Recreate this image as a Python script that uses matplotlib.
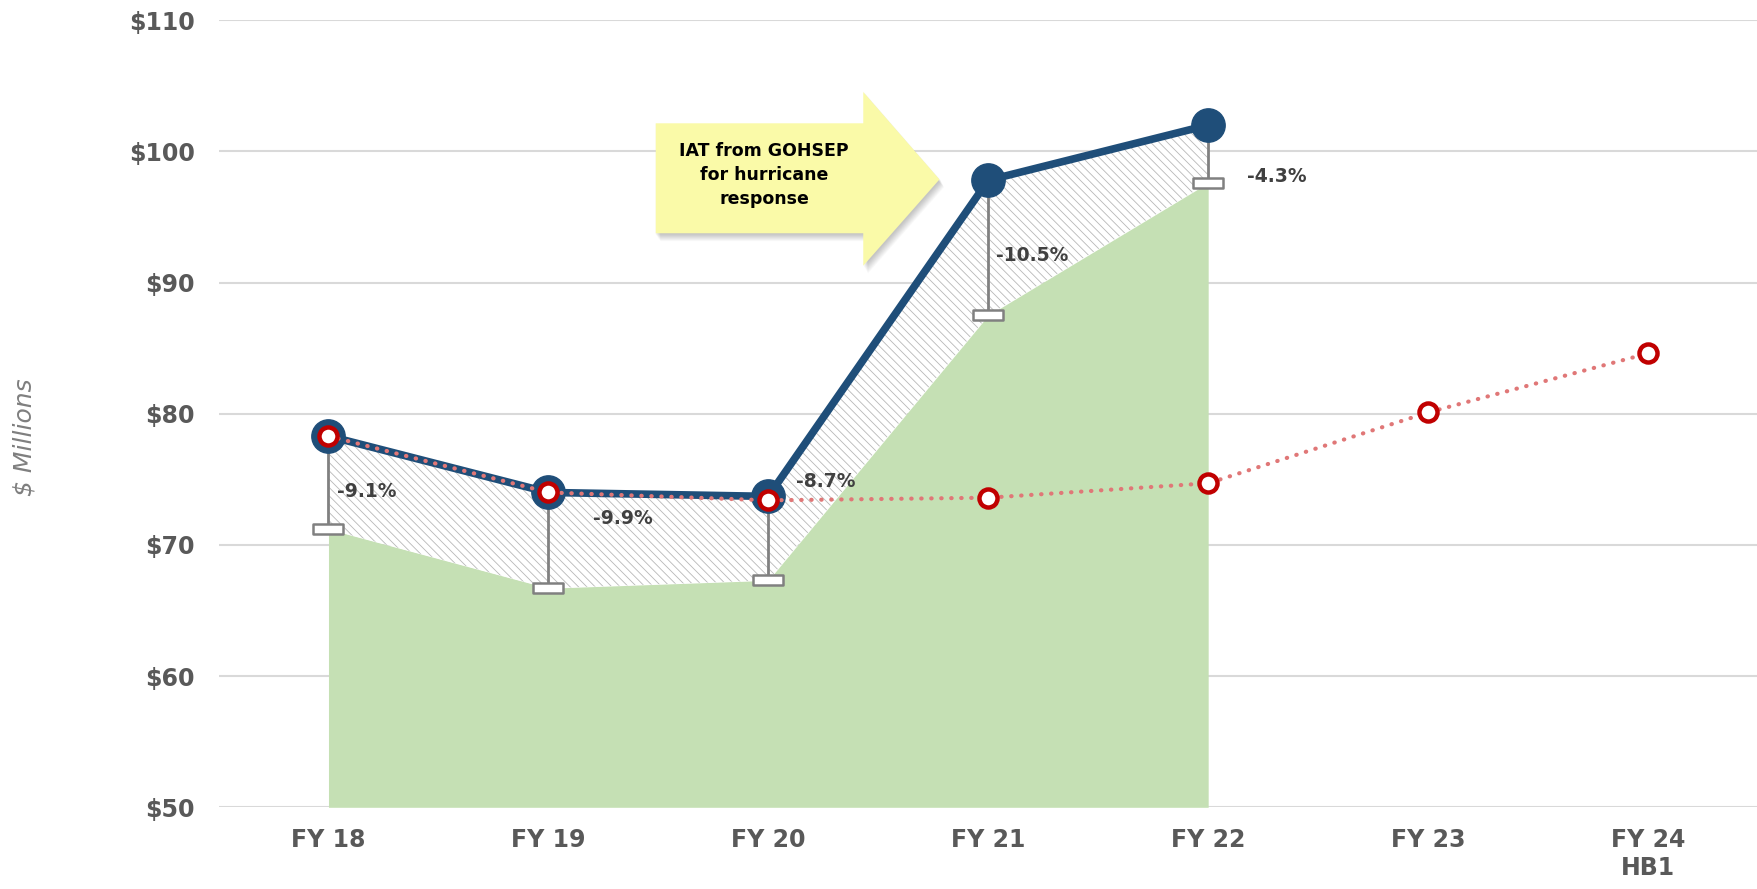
import matplotlib
matplotlib.use("Agg")
import matplotlib.pyplot as plt
from matplotlib.patches import Polygon
from matplotlib.path import Path
import numpy as np

plt.rcParams['font.family'] = ['DejaVu Sans']
plt.rcParams['hatch.color'] = '#b8b8b8'
plt.rcParams['hatch.linewidth'] = 0.6

# ---- data ----
categories = ["FY 18", "FY 19", "FY 20", "FY 21", "FY 22", "FY 23", "FY 24\nHB1"]
actual = [78.3, 74.0, 73.7, 97.8, 102.0]            # blue line (FY18-FY22)
adjusted = [71.2, 66.7, 67.3, 87.5, 97.6]           # green area top (FY18-FY22)
pct_labels = ["-9.1%", "-9.9%", "-8.7%", "-10.5%", "-4.3%"]
baseline = [78.3, 74.0, 73.4, 73.6, 74.7, 80.1, 84.6]  # red dotted series

x_all = np.arange(len(categories))
x_act = np.arange(len(actual))

BLUE = '#1f4e79'
GREEN = '#c5e0b4'
RED = '#c00000'
RED_DOT = '#e07777'
GRID = '#d9d9d9'
TXT = '#595959'

fig = plt.figure(figsize=(17.58, 8.89), dpi=100)
ax = fig.add_axes([0.1243, 0.0919, 0.8757, 0.8854])

ax.set_xlim(-0.5, len(categories) - 0.5)
ax.set_ylim(50, 110)
ax.set_yticks(np.arange(50, 111, 10))
ax.set_yticklabels([f"${v}" for v in range(50, 111, 10)])
ax.set_xticks(x_all)
ax.set_xticklabels(categories)
for s in ax.spines.values():
    s.set_visible(False)
ax.tick_params(axis='both', length=0, colors=TXT, labelsize=17)
ax.tick_params(axis='y', pad=17)
ax.tick_params(axis='x', pad=15)
for lab in ax.get_xticklabels() + ax.get_yticklabels():
    lab.set_fontweight('bold')
    lab.set_color(TXT)
ax.grid(axis='y', color=GRID, linewidth=1.5, zorder=0)
ax.set_axisbelow(True)

# green area
ax.fill_between(x_act, 50, adjusted, color=GREEN, linewidth=0, zorder=1)
# hatched gap
ax.fill_between(x_act, adjusted, actual, facecolor='white', edgecolor='#b8b8b8',
                hatch='\\\\\\\\', linewidth=0, zorder=1.5)

# error bars from actual down to adjusted
cap = Path([(-2.0, -0.6), (2.0, -0.6), (2.0, 0.6), (-2.0, 0.6), (-2.0, -0.6)],
           [Path.MOVETO, Path.LINETO, Path.LINETO, Path.LINETO, Path.CLOSEPOLY])
for xi, a, g in zip(x_act, actual, adjusted):
    ax.plot([xi, xi], [a, g], color='#808080', linewidth=2, zorder=2.5)
ax.plot(x_act, adjusted, linestyle='none', marker=cap, markersize=22,
        markerfacecolor='white', markeredgecolor='#808080', markeredgewidth=1.8,
        zorder=2.6)

# blue line
ax.plot(x_act, actual, color=BLUE, linewidth=5.5, marker='o', markersize=24,
        markerfacecolor=BLUE, markeredgecolor=BLUE, zorder=3,
        solid_capstyle='round', solid_joinstyle='round')

# red dotted baseline
ax.plot(x_all, baseline, color=RED_DOT, linewidth=3, linestyle=(0, (0.1, 2.3)),
        dash_capstyle='round', zorder=4)
ax.plot(x_all, baseline, linestyle='none', marker='o', markersize=13,
        markerfacecolor='white', markeredgecolor=RED, markeredgewidth=3.2, zorder=5)

# percent labels
label_pos = [(0.04, 74.1, 'left'), (1.34, 72.0, 'center'), (2.26, 74.8, 'center'),
             (3.2, 92.1, 'center'), (4.31, 98.1, 'center')]
for (lx, ly, ha), t in zip(label_pos, pct_labels):
    ax.text(lx, ly, t, ha=ha, va='center', fontsize=13.5, fontweight='bold',
            color='#404040', zorder=6)

# y label
fig.text(0.0142, 0.508, "$ Millions", rotation=90, ha='center', va='center',
         fontsize=18, style='italic', color='#7f7f7f')

# callout arrow (axes fraction coords)
bl, br, tip = 0.284, 0.4188, 0.4683
bt, bb, ht, hb, ty = 0.869, 0.7293, 0.9088, 0.688, 0.7977
verts = [(bl, bt), (br, bt), (br, ht), (tip, ty), (br, hb), (br, bb), (bl, bb)]
cx, cy = (bl + tip) / 2, ty
n_sh = 10
for k in range(n_sh):
    f = (k + 1) / n_sh
    grow = 1.0 + 0.006 * (1 - f)
    dx, dy = 0.003 * f, -0.010 * f
    sh = Polygon([(cx + (vx - cx) * grow + dx, cy + (vy - cy) * grow + dy) for vx, vy in verts],
                 closed=True, transform=ax.transAxes, facecolor='#000000',
                 edgecolor='none', alpha=0.022, zorder=6.5)
    ax.add_patch(sh)
arrow = Polygon(verts, closed=True, transform=ax.transAxes, facecolor='#fafaa8',
                edgecolor='none', zorder=7)
ax.add_patch(arrow)
ax.text((bl + br) / 2 + 0.003, (bt + bb) / 2 + 0.004, "IAT from GOHSEP\nfor hurricane\nresponse",
        transform=ax.transAxes, ha='center', va='center', fontsize=12.5,
        fontweight='bold', color='black', linespacing=1.45, zorder=8)

fig.savefig("out.png", dpi=100)
